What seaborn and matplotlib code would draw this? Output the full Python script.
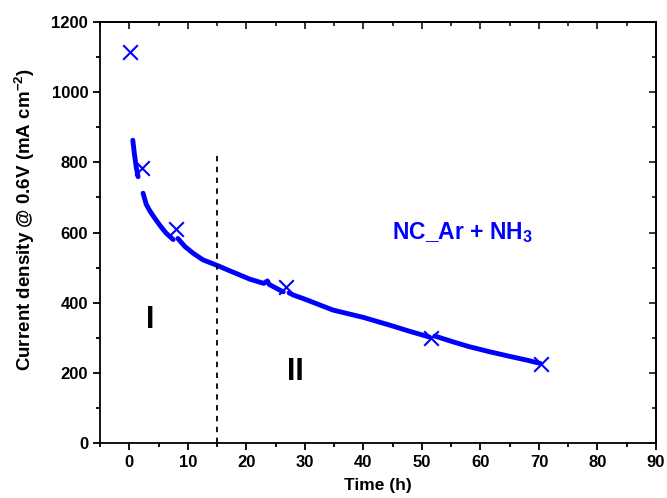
import matplotlib
matplotlib.use("Agg")
import matplotlib.pyplot as plt
import seaborn as sns
import pandas as pd
from matplotlib.ticker import MultipleLocator

sns.set_theme(style="white")
plt.rcParams['font.family'] = ['Liberation Sans', 'DejaVu Sans']
plt.rcParams['mathtext.fontset'] = 'custom'
plt.rcParams['mathtext.rm'] = 'Liberation Sans:bold'
plt.rcParams['mathtext.bf'] = 'Liberation Sans:bold'

# continuous measurement (segments separated by short interruptions)
seg1_t = [0.6, 0.9, 1.2, 1.5]
seg1_j = [863, 820, 785, 759]
seg2_t = [2.35, 2.9, 3.5, 4.05, 5.2, 6.3, 7.5]
seg2_j = [712, 680, 662, 648, 621, 598, 580]
seg3_t = [8.3, 9.5, 10.9, 12.6, 14.9, 17.0, 20.6, 23.0, 23.6, 23.9, 25.7, 26.3]
seg3_j = [583, 560, 541, 522, 507, 492, 467, 455, 462, 452, 436, 431]
seg4_t = [27.3, 28.0, 30.0, 34.8, 40.0, 44.5, 48.0, 51.3]
seg4_j = [428, 422, 410, 379, 358, 336, 318, 302]
seg5_t = [52.2, 55.0, 58.0, 61.6, 65.0, 68.0, 70.2]
seg5_j = [305, 290, 275, 260, 247, 236, 227]

# polarisation-curve points
cross_t = [0.1, 2.1, 8.0, 26.8, 51.6, 70.3]
cross_j = [1115, 784, 610, 444, 299, 225]

frames = []
for i, (t, j) in enumerate([(seg1_t, seg1_j), (seg2_t, seg2_j), (seg3_t, seg3_j),
                            (seg4_t, seg4_j), (seg5_t, seg5_j)]):
    frames.append(pd.DataFrame({"t": t, "j": j, "seg": i}))
df = pd.concat(frames, ignore_index=True)
dfx = pd.DataFrame({"t": cross_t, "j": cross_j})

fig = plt.figure(figsize=(6.67, 4.98), dpi=100)
ax = fig.add_axes([0.15, 0.1104, 0.8335, 0.8454])

sns.lineplot(data=df, x="t", y="j", units="seg", estimator=None, sort=False,
             color=(0, 0, 1), lw=3.5, ax=ax, legend=False)
sns.scatterplot(data=dfx, x="t", y="j", marker="x", s=110, color=(0, 0, 1),
                linewidth=1.5, ax=ax, legend=False, zorder=5)

ax.plot([15, 15], [0, 821], ls=(0, (3, 3)), color='black', lw=1.3)

ax.set_xlim(-5, 90)
ax.set_ylim(0, 1200)
ax.xaxis.set_major_locator(MultipleLocator(10))
ax.xaxis.set_minor_locator(MultipleLocator(5))
ax.yaxis.set_major_locator(MultipleLocator(200))
ax.yaxis.set_minor_locator(MultipleLocator(100))
ax.tick_params(which='both', direction='out', bottom=True, left=True, width=1.3,
               labelsize=12, colors='black')
ax.tick_params(which='major', length=5)
ax.tick_params(which='minor', length=3)
for lab in ax.get_xticklabels() + ax.get_yticklabels():
    lab.set_fontweight('bold')

secx = ax.secondary_xaxis('top')
secx.xaxis.set_major_locator(MultipleLocator(10))
secx.xaxis.set_minor_locator(MultipleLocator(5))
secx.tick_params(which='both', direction='in', labeltop=False, width=1.3)
secx.tick_params(which='major', length=5)
secx.tick_params(which='minor', length=3)
secy = ax.secondary_yaxis('right')
secy.yaxis.set_major_locator(MultipleLocator(200))
secy.yaxis.set_minor_locator(MultipleLocator(100))
secy.tick_params(which='both', direction='in', labelright=False, width=1.3)
secy.tick_params(which='major', length=5)
secy.tick_params(which='minor', length=3)
for s in secx.spines.values():
    s.set_linewidth(1.3)
for s in secy.spines.values():
    s.set_linewidth(1.3)

for s in ax.spines.values():
    s.set_visible(True)
    s.set_color('black')
    s.set_linewidth(1.3)

ax.set_xlabel("Time (h)", fontsize=12.5, fontweight='bold', labelpad=6,
              color='black')
ax.set_ylabel("Current density @ 0.6V (mA cm$^{-2}$)", fontsize=13.5,
              fontweight='bold', color='black')
ax.yaxis.set_label_coords(-0.113, 0.53)

ax.text(57, 601, "NC_Ar + NH$_3$", color=(0, 0, 1), fontsize=16.5,
        fontweight='bold', ha='center', va='center')
ax.text(3.5, 351, "I", fontsize=22, fontweight='bold', ha='center',
        va='center', color='black')
ax.text(28.4, 203, "II", fontsize=22, fontweight='bold', ha='center',
        va='center', color='black')

fig.savefig("out.png", dpi=100)
